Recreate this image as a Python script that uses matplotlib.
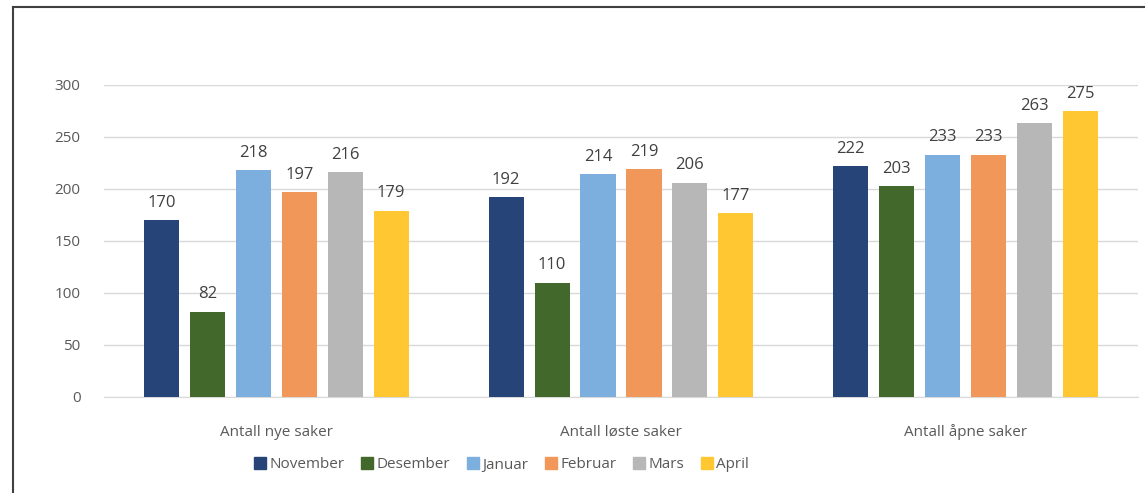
import numpy as np
import matplotlib.pyplot as plt
from matplotlib.lines import Line2D

categories = ["Antall nye saker", "Antall løste saker", "Antall åpne saker"]
months = ["November", "Desember", "Januar", "Februar", "Mars", "April"]
values = {
    "November": [170, 192, 222],
    "Desember": [82, 110, 203],
    "Januar": [218, 214, 233],
    "Februar": [197, 219, 233],
    "Mars": [216, 206, 263],
    "April": [179, 177, 275],
}
colors = ["#264478", "#43682B", "#7CAFDD", "#F1975A", "#B7B7B7", "#FFC832"]

plt.rcParams['font.family'] = ['Open Sans', 'DejaVu Sans']
text_color = "#595959"

fig = plt.figure(figsize=(11.45, 4.93), dpi=100)
ax = fig.add_axes([104 / 1145, 1 - 397 / 493, 1034 / 1145, 312 / 493])

x = np.arange(len(categories))
pitch = 0.1333
width = 0.102
for i, (m, c) in enumerate(zip(months, colors)):
    pos = x + (i - 2.5) * pitch
    bars = ax.bar(pos, values[m], width=width, color=c, label=m, zorder=3)
    for b, v in zip(bars, values[m]):
        ax.text(b.get_x() + b.get_width() / 2, v + 9, str(v), ha='center', va='bottom',
                fontsize=12, color="#404040", clip_on=False)

ax.set_xlim(-0.5, 2.5)
ax.set_ylim(0, 300)
ax.set_yticks(range(0, 301, 50))
ax.yaxis.grid(True, color="#D9D9D9", linewidth=1, zorder=0)
ax.set_xticks(x)
ax.set_xticklabels(categories, va='baseline')
for s in ax.spines.values():
    s.set_visible(False)
ax.spines['bottom'].set_visible(True)
ax.spines['bottom'].set_color("#D9D9D9")
ax.tick_params(axis='both', length=0, colors=text_color, labelsize=11)
ax.tick_params(axis='y', pad=17)
ax.tick_params(axis='x', pad=28)

handles = [Line2D([], [], marker='s', linestyle='none', markersize=8, color=c) for c in colors]
fig.legend(handles, months, loc='center', bbox_to_anchor=(501 / 1145, 1 - 465 / 493), ncol=6,
           frameon=False, fontsize=11, labelcolor=text_color, handletextpad=0.1,
           columnspacing=1.0, handlelength=1.0)

# outer frame (top and left edges are visible)
fig.add_artist(Line2D([13 / 1145, 1], [1 - 7 / 493, 1 - 7 / 493], color="#404040", linewidth=1.5))
fig.add_artist(Line2D([13 / 1145, 13 / 1145], [0, 1 - 7 / 493], color="#404040", linewidth=1.5))

fig.savefig("out.png", dpi=100)
